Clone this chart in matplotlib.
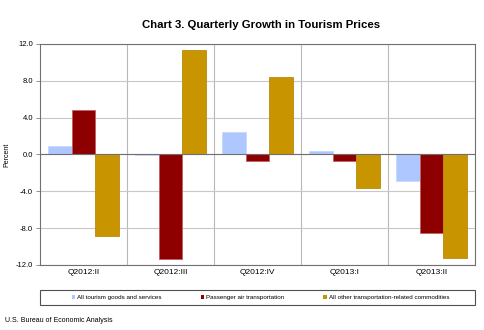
import numpy as np
import matplotlib
matplotlib.use("Agg")
import matplotlib.pyplot as plt
from matplotlib.patches import Patch, Rectangle

quarters = ["Q2012:II", "Q2012:III", "Q2012:IV", "Q2013:I", "Q2013:II"]
all_tourism = [0.9, -0.1, 2.4, 0.4, -2.9]
air_transport = [4.8, -11.4, -0.7, -0.7, -8.5]
other_transport = [-8.9, 11.3, 8.4, -3.6, -11.2]

series = [
    ("All tourism goods and services", all_tourism, "#AEC8FF", "#C6D8FF"),
    ("Passenger air transportation", air_transport, "#8E0000", "#C06060"),
    ("All other transportation-related commodities", other_transport, "#C89400", "#B88A10"),
]

plt.rcParams["font.family"] = ["Liberation Sans", "DejaVu Sans"]

fig = plt.figure(figsize=(4.85, 3.3), dpi=100)
ax = fig.add_axes([0.0825, 0.197, 0.897, 0.67])

x = np.arange(len(quarters))
w = 0.27
for i, (label, vals, col, edge) in enumerate(series):
    ax.bar(x + (i - 1) * w, vals, width=w, color=col, edgecolor=edge, linewidth=0.6, zorder=3)

ax.set_xlim(-0.5, len(quarters) - 0.5)
ax.set_ylim(-12, 12)
ax.set_yticks(np.arange(-12, 12.1, 4))
ax.set_yticklabels([f"{v:.1f}" for v in np.arange(-12, 12.1, 4)], fontsize=5.5)
ax.set_xticks(x)
ax.set_xticklabels(quarters, fontsize=6)
ax.tick_params(axis="x", length=0, pad=3)
ax.tick_params(axis="y", length=3, width=0.6, color="#808080", pad=2)
ax.yaxis.grid(True, color="#C8C8C8", linewidth=0.8, zorder=0)
for b in np.arange(0.5, len(quarters) - 0.5, 1):
    ax.axvline(b, color="#B8B8B8", linewidth=0.8, zorder=1)
ax.axhline(0, color="#707070", linewidth=0.8, zorder=4)
for s in ax.spines.values():
    s.set_color("#707070")
    s.set_linewidth(0.8)

ax.set_ylabel("Percent", fontsize=5, labelpad=4)
fig.text(0.538, 0.925, "Chart 3. Quarterly Growth in Tourism Prices",
         ha="center", va="center", fontsize=8.2, fontweight="bold")

# legend box spans the plot width, entries centred inside it
fig.patches.append(Rectangle((0.0825, 0.076), 0.897, 0.046, transform=fig.transFigure,
                             fill=False, edgecolor="#505050", linewidth=0.8))
handles = [Patch(facecolor=c, edgecolor="none", label=l) for l, _, c, _ in series]
fig.legend(handles=handles, loc="center", ncol=3, fontsize=4.5,
           bbox_to_anchor=(0.537, 0.099), frameon=False,
           handlelength=0.6, handleheight=0.6, handletextpad=0.3, columnspacing=6.2)

fig.text(0.01, 0.03, "U.S. Bureau of Economic Analysis", fontsize=5, ha="left", va="center")

fig.savefig("out.png", dpi=100)
